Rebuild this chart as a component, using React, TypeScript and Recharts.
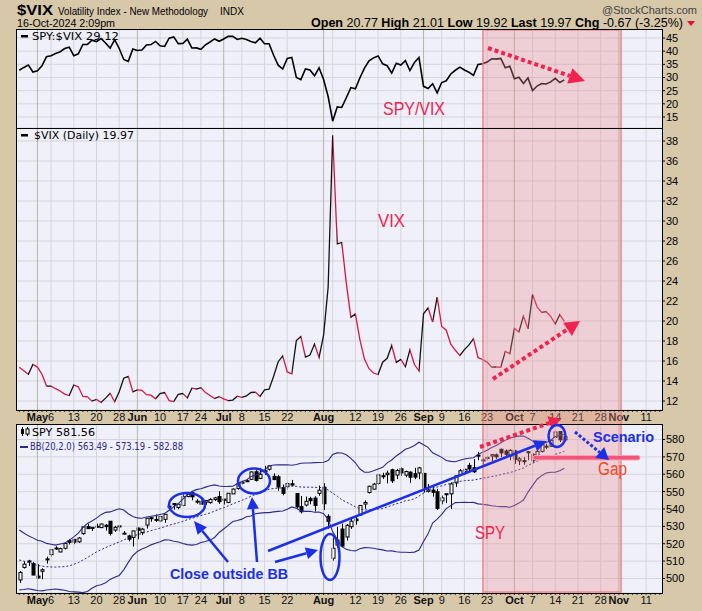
import React from 'react';
import {
  ComposedChart,
  Line,
  Bar,
  XAxis,
  YAxis,
  CartesianGrid,
  ReferenceLine,
} from 'recharts';

// trading days shown on the axis (data ends Oct 16, the rest is empty space)
const APR_DAYS = [25, 26, 29, 30];
const MAY_DAYS = [1, 2, 3, 6, 7, 8, 9, 10, 13, 14, 15, 16, 17, 20, 21, 22, 23, 24, 28, 29, 30, 31];
const JUN_DAYS = [3, 4, 5, 6, 7, 10, 11, 12, 13, 14, 17, 18, 20, 21, 24, 25, 26, 27, 28];
const JUL_DAYS = [1, 2, 3, 5, 8, 9, 10, 11, 12, 15, 16, 17, 18, 19, 22, 23, 24, 25, 26, 29, 30, 31];
const AUG_DAYS = [1, 2, 5, 6, 7, 8, 9, 12, 13, 14, 15, 16, 19, 20, 21, 22, 23, 26, 27, 28, 29, 30];
const SEP_DAYS = [3, 4, 5, 6, 9, 10, 11, 12, 13, 16, 17, 18, 19, 20, 23, 24, 25, 26, 27, 30];
const OCT_DAYS = [1, 2, 3, 4, 7, 8, 9, 10, 11, 14, 15, 16, 17, 18, 21, 22, 23, 24, 25, 28, 29, 30, 31];
const NOV_DAYS = [1, 4, 5, 6, 7, 8, 11, 12, 13, 14];

// axis labels: date -> text (months bold)
const AXIS_LABELS: [string, string, boolean][] = [
  ['May 1', 'May', true], ['May 6', '6', false], ['May 13', '13', false], ['May 20', '20', false],
  ['May 28', '28', false], ['Jun 3', 'Jun', true], ['Jun 10', '10', false], ['Jun 17', '17', false],
  ['Jun 24', '24', false], ['Jul 1', 'Jul', true], ['Jul 8', '8', false], ['Jul 15', '15', false],
  ['Jul 22', '22', false], ['Aug 1', 'Aug', true], ['Aug 12', '12', false], ['Aug 19', '19', false],
  ['Aug 26', '26', false], ['Sep 3', 'Sep', true], ['Sep 9', '9', false], ['Sep 16', '16', false],
  ['Sep 23', '23', false], ['Oct 1', 'Oct', true], ['Oct 7', '7', false], ['Oct 14', '14', false],
  ['Oct 21', '21', false], ['Oct 28', '28', false], ['Nov 1', 'Nov', true], ['Nov 11', '11', false],
];
const EXTRA_GRID = ['Aug 5'];

const vixClose = [
  15.37, 15.03, 14.67, 15.65, 15.39, 14.68, 13.49, 13.49, 13.23, 13.0,
  12.69, 12.55, 13.6, 13.42, 12.45, 12.42, 11.99, 12.15, 11.86, 12.29,
  12.77, 11.93, 12.92, 14.28, 14.47, 12.92, 13.11, 13.06, 12.63, 12.58,
  12.22, 12.74, 12.85, 12.04, 11.94, 12.66, 12.75, 12.3, 13.28, 13.2,
  13.33, 12.84, 12.55, 12.24, 12.44, 12.22, 12.03, 12.09, 12.48, 12.37,
  12.51, 12.85, 12.89, 12.46, 13.12, 13.19, 14.48, 15.93, 16.52, 14.91,
  14.72, 18.04, 18.46, 16.39, 16.6, 17.69, 16.36, 18.59, 23.39, 38.57,
  27.71, 27.85, 23.79, 20.37, 20.71, 18.12, 16.19, 15.23, 14.8, 14.65,
  15.88, 16.27, 17.55, 15.86, 16.15, 15.43, 17.11, 15.65, 15.0, 20.72,
  21.32, 19.9, 22.38, 19.45, 19.08, 17.69, 17.07, 16.56, 17.14, 17.61,
  18.23, 16.33, 16.15, 15.89, 15.39, 15.41, 15.37, 16.96, 16.73, 19.26,
  18.9, 20.49, 19.21, 22.64, 21.42, 20.86, 20.93, 20.46, 19.7, 20.64,
  19.97,
];

const spyVixRatio = [
  32.76, 33.82, 34.77, 32.08, 32.51, 34.4, 37.9, 38.29, 39.09, 39.78,
  40.99, 41.5, 38.3, 38.99, 42.55, 42.57, 44.16, 43.63, 44.8, 43.11,
  41.19, 44.38, 41.01, 36.84, 36.12, 40.82, 40.26, 40.46, 42.33, 42.5,
  43.7, 42.05, 41.79, 44.96, 45.43, 42.87, 42.91, 44.59, 41.19, 41.25,
  40.72, 42.43, 43.47, 44.64, 43.75, 44.63, 45.64, 45.61, 44.44, 44.89,
  44.43, 43.68, 43.17, 44.94, 42.8, 42.83, 38.46, 34.69, 33.23, 37.2,
  37.62, 30.0, 29.17, 33.22, 32.82, 30.64, 33.67, 29.21, 22.78, 13.41,
  18.84, 18.62, 22.31, 26.17, 25.75, 29.91, 33.59, 36.31, 37.45, 38.2,
  35.18, 34.46, 31.69, 35.44, 34.72, 36.39, 32.63, 35.68, 37.58, 26.64,
  25.84, 27.62, 24.14, 28.09, 28.76, 31.34, 32.75, 33.94, 32.84, 31.97,
  30.8, 34.97, 35.19, 35.85, 37.12, 36.99, 37.24, 33.7, 34.3, 29.52,
  30.1, 27.71, 29.83, 25.08, 26.76, 27.67, 27.53, 28.33, 29.66, 28.09,
  29.12,
];

const spyOpen = [
  499.18, 506.35, 510.09, 508.56, 501.38, 504.15, 511.16, 513.75, 517.56, 515.26,
  517.38, 521.81, 522.56, 521.11, 525.83, 529.88, 528.81, 529.57, 529.28, 530.65,
  532.96, 527.85, 530.27, 525.68, 524.52, 523.59, 529.02, 526.46, 530.77, 534.98,
  533.66, 533.18, 534.07, 541.63, 543.15, 540.88, 542.08, 547.16, 549.44, 544.4,
  544.33, 543.99, 543.69, 545.37, 547.16, 545.63, 543.7, 548.69, 551.77, 555.44,
  556.26, 557.07, 561.44, 557.63, 562.03, 562.87, 558.8, 558.51, 552.42, 553.0,
  554.54, 548.86, 541.35, 542.28, 546.02, 546.26, 548.98, 552.57, 535.75, 511.64,
  519.22, 528.47, 523.91, 529.81, 534.21, 536.53, 542.85, 549.5, 551.42, 554.73,
  559.15, 559.77, 562.56, 559.53, 563.18, 559.49, 561.21, 560.31, 560.77, 560.47,
  550.2, 550.89, 549.94, 544.65, 548.36, 548.7, 555.01, 559.71, 561.74, 565.1,
  563.74, 571.01, 567.84, 569.34, 570.48, 571.14, 574.38, 573.39, 570.42, 573.4,
  567.71, 567.36, 572.35, 571.3, 570.42, 573.16, 575.77, 576.05, 581.22, 584.59,
  579.78,
];
const spyHigh = [
  504.27, 509.88, 510.75, 509.56, 508.19, 505.89, 512.55, 516.61, 518.57, 517.74,
  520.21, 522.64, 522.67, 523.83, 530.08, 531.52, 529.52, 531.56, 531.52, 531.38,
  533.07, 530.27, 530.51, 527.31, 525.2, 527.5, 529.31, 529.15, 534.69, 535.42,
  536.89, 535.99, 537.01, 544.12, 543.33, 542.81, 548.53, 548.62, 550.28, 545.65,
  546.95, 545.2, 546.24, 546.96, 550.28, 545.88, 549.01, 551.83, 555.05, 556.25,
  557.18, 561.67, 562.33, 563.67, 564.84, 565.16, 560.51, 559.52, 554.08, 555.27,
  556.74, 549.17, 547.46, 547.19, 547.05, 547.34, 553.5, 554.87, 536.99, 523.58,
  529.75, 531.59, 531.29, 534.51, 535.73, 542.28, 544.96, 553.36, 555.02, 559.61,
  560.84, 562.11, 563.18, 563.09, 563.91, 562.06, 561.65, 563.68, 564.2, 560.81,
  554.43, 553.8, 551.6, 547.71, 549.15, 555.36, 559.4, 563.03, 563.11, 566.58,
  568.69, 572.88, 569.31, 570.33, 571.36, 571.89, 574.71, 574.22, 574.38, 574.06,
  569.9, 569.8, 573.36, 571.96, 573.78, 577.71, 577.58, 580.33, 585.27, 584.9,
  582.83,
];
const spyLow = [
  497.49, 505.7, 507.25, 501.98, 499.87, 499.55, 508.56, 512.56, 516.45, 515.14,
  516.71, 519.59, 519.74, 520.56, 525.18, 528.54, 527.32, 529.17, 529.07, 527.6,
  524.72, 526.88, 527.11, 525.37, 521.33, 518.36, 522.6, 524.96, 528.73, 532.68,
  532.54, 532.57, 532.05, 540.3, 539.59, 539.85, 541.61, 546.73, 545.05, 543.02,
  542.62, 542.44, 543.03, 544.61, 542.95, 542.52, 543.65, 548.65, 551.12, 554.19,
  555.52, 556.77, 555.83, 557.15, 559.63, 562.1, 556.61, 550.43, 547.91, 551.02,
  553.28, 540.29, 537.45, 541.49, 542.72, 538.52, 547.58, 539.43, 528.6, 510.27,
  517.87, 518.05, 521.84, 528.56, 530.95, 536.28, 540.12, 548.88, 551.26, 553.86,
  557.33, 554.73, 554.98, 557.29, 559.05, 558.32, 555.04, 557.18, 557.14, 549.51,
  549.46, 547.1, 539.44, 542.68, 543.38, 539.96, 552.74, 559.45, 559.9, 560.79,
  560.83, 568.08, 565.17, 568.1, 567.6, 568.91, 569.9, 570.42, 568.08, 566.0,
  565.27, 565.49, 568.1, 566.63, 569.53, 572.55, 574.49, 575.91, 580.73, 578.54,
  578.96,
];
const spyClose = [
  503.49, 508.26, 510.06, 501.98, 500.35, 505.03, 511.29, 516.57, 517.14, 517.19,
  520.17, 520.84, 520.91, 523.3, 529.78, 528.69, 529.45, 530.06, 531.36, 529.83,
  525.96, 529.44, 529.81, 526.1, 522.61, 527.37, 527.8, 528.39, 534.67, 534.66,
  534.01, 535.66, 536.95, 541.36, 542.45, 542.78, 547.1, 548.49, 547.0, 544.51,
  542.74, 544.83, 545.51, 546.37, 544.22, 545.34, 549.01, 551.46, 554.64, 555.28,
  555.82, 561.32, 556.48, 559.99, 561.53, 564.86, 556.94, 552.66, 548.99, 554.65,
  553.78, 541.23, 538.41, 544.44, 544.76, 542.0, 550.81, 543.01, 532.9, 517.38,
  522.15, 518.66, 530.65, 532.99, 533.27, 542.04, 543.75, 553.07, 554.31, 559.61,
  558.7, 560.62, 556.22, 562.13, 560.79, 561.56, 558.3, 558.35, 563.68, 552.08,
  550.95, 549.61, 540.36, 546.41, 548.79, 554.42, 559.09, 562.01, 562.84, 563.07,
  561.4, 570.98, 568.25, 569.67, 571.3, 570.04, 572.3, 571.47, 573.76, 568.62,
  568.86, 567.82, 572.98, 567.8, 573.17, 577.14, 576.13, 579.58, 584.32, 579.78,
  581.56,
];

// Bollinger bands (20, 2.0)
const bbUpper = [
  527.87, 526.19, 524.54, 523.38, 521.97, 521.39, 520.19, 519.7, 519.19, 519.83,
  520.36, 522.1, 523.96, 526.11, 529.31, 531.61, 533.1, 534.74, 536.73, 538.05,
  538.33, 539.27, 540.16, 539.37, 537.28, 535.7, 534.87, 534.68, 535.42, 535.79,
  536.2, 536.8, 537.4, 539.24, 541.27, 543.06, 545.66, 548.18, 550.02, 551.15,
  551.69, 552.58, 553.41, 553.9, 553.2, 552.98, 553.02, 553.13, 554.57, 555.8,
  556.65, 558.77, 559.35, 560.9, 562.54, 564.72, 565.29, 565.4, 565.38, 565.43,
  565.16, 565.58, 566.37, 566.49, 566.44, 566.71, 566.74, 566.88, 567.93, 571.34,
  572.3, 572.26, 571.17, 569.18, 566.59, 563.03, 561.11, 561.19, 562.03, 563.04,
  563.97, 566.54, 568.23, 570.53, 572.41, 574.39, 575.26, 576.55, 578.41, 576.96,
  575.48, 572.31, 571.08, 569.71, 567.92, 567.4, 567.23, 568.01, 568.74, 569.21,
  569.47, 571.33, 572.73, 573.87, 575.43, 576.55, 578.17, 579.49, 580.83, 581.48,
  581.92, 581.99, 580.66, 579.11, 577.85, 578.02, 578.2, 579.57, 581.73, 582.52,
  582.88,
];
const bbMid = [
  510.67, 509.93, 509.32, 508.48, 507.53, 507.13, 506.77, 506.66, 506.55, 506.71,
  506.82, 507.32, 508.14, 509.13, 510.59, 512.05, 513.76, 515.28, 516.57, 517.79,
  518.91, 519.97, 520.96, 522.17, 523.28, 524.4, 525.23, 525.82, 526.7, 527.57,
  528.26, 529.0, 529.8, 530.7, 531.33, 532.04, 532.92, 533.84, 534.62, 535.35,
  536.19, 536.96, 537.75, 538.76, 539.84, 540.74, 541.8, 542.95, 543.95, 544.98,
  546.07, 547.35, 548.33, 549.26, 550.22, 551.32, 551.81, 552.02, 552.12, 552.63,
  553.18, 553.0, 552.65, 552.55, 552.58, 552.41, 552.5, 552.08, 550.99, 549.1,
  547.42, 545.28, 543.99, 542.64, 541.23, 540.09, 539.43, 539.45, 539.71, 539.96,
  540.21, 541.18, 542.07, 542.95, 543.75, 544.73, 545.1, 545.87, 547.41, 549.14,
  550.58, 552.13, 552.62, 553.29, 554.06, 554.68, 555.45, 555.89, 556.32, 556.49,
  556.63, 557.15, 557.75, 558.13, 558.65, 559.07, 559.77, 560.43, 560.93, 561.76,
  562.66, 563.57, 565.2, 566.27, 567.49, 568.62, 569.48, 570.35, 571.43, 572.26,
  573.19,
];
const bbLower = [
  493.47, 493.67, 494.1, 493.58, 493.09, 492.87, 493.35, 493.62, 493.91, 493.59,
  493.28, 492.54, 492.32, 492.15, 491.87, 492.49, 494.42, 495.82, 496.41, 497.53,
  499.49, 500.67, 501.76, 504.97, 509.28, 513.1, 515.59, 516.96, 517.98, 519.35,
  520.32, 521.2, 522.2, 522.16, 521.39, 521.02, 520.18, 519.5, 519.22, 519.55,
  520.69, 521.34, 522.09, 523.62, 526.48, 528.5, 530.58, 532.77, 533.33, 534.16,
  535.49, 535.93, 537.31, 537.62, 537.9, 537.92, 538.33, 538.64, 538.86, 539.83,
  541.2, 540.42, 538.93, 538.61, 538.72, 538.11, 538.26, 537.28, 534.05, 526.86,
  522.54, 518.3, 516.81, 516.1, 515.87, 517.15, 517.75, 517.71, 517.39, 516.88,
  516.45, 515.82, 515.91, 515.37, 515.09, 515.07, 514.94, 515.19, 516.41, 521.32,
  525.68, 531.95, 534.16, 536.87, 540.2, 541.96, 543.67, 543.77, 543.9, 543.77,
  543.79, 542.97, 542.77, 542.39, 541.87, 541.59, 541.37, 541.37, 541.03, 542.04,
  543.4, 545.15, 549.74, 553.43, 557.13, 559.22, 560.76, 561.13, 561.13, 562.0,
  563.49,
];

const RATIO_TICKS = [15, 20, 25, 30, 35, 40, 45];
const VIX_TICKS = [12, 14, 16, 18, 20, 22, 24, 26, 28, 30, 32, 34, 36, 38];
const SPY_TICKS = [500, 510, 520, 530, 540, 550, 560, 570, 580];

const FONT = "'Liberation Sans', Arial, sans-serif";
const VFONT = "'DejaVu Sans', Verdana, sans-serif";
const TAN = '#d7c8aa';
const PANEL_BG = '#eff0f9';
const GRID = '#d5d5dc';
const MONTH_GRID = '#bab4a6';
const RED = '#f0234f';
const BLUE = '#1b2fe6';
const NAVY = '#2a2a8c';

const dates: string[] = [];
([['Apr', APR_DAYS], ['May', MAY_DAYS], ['Jun', JUN_DAYS], ['Jul', JUL_DAYS], ['Aug', AUG_DAYS],
  ['Sep', SEP_DAYS], ['Oct', OCT_DAYS], ['Nov', NOV_DAYS]] as [string, number[]][]).forEach(([m, days]) =>
  days.forEach((d) => dates.push(`${m} ${d}`))
);

const rows = dates.map((d, i) => {
  const has = i < spyClose.length;
  return {
    d,
    ratio: has ? spyVixRatio[i] : null,
    vix: has ? vixClose[i] : null,
    o: has ? spyOpen[i] : null,
    h: has ? spyHigh[i] : null,
    l: has ? spyLow[i] : null,
    c: has ? spyClose[i] : null,
    rng: has ? [spyLow[i], spyHigh[i]] : null,
    bbU: has ? bbUpper[i] : null,
    bbM: has ? bbMid[i] : null,
    bbL: has ? bbLower[i] : null,
  };
});

const labelMap: Record<string, { text: string; bold: boolean }> = {};
AXIS_LABELS.forEach(([d, text, bold]) => (labelMap[d] = { text, bold }));
const gridDates = [...AXIS_LABELS.map((a) => a[0]), ...EXTRA_GRID];
const monthDates = AXIS_LABELS.filter((a) => a[2]).map((a) => a[0]);

// VIX line: black on up days, red on down days
const vixStops: { off: number; color: string }[] = [];
for (let j = 0; j < vixClose.length - 1; j++) {
  const color = vixClose[j + 1] >= vixClose[j] ? '#111111' : '#d6163f';
  vixStops.push({ off: j / (vixClose.length - 1), color });
  vixStops.push({ off: (j + 1) / (vixClose.length - 1), color });
}

const PLOT_L = 17;
const PLOT_R = 662;
const AXIS_W = 40;
const P1 = { top: 29, h: 99 };
const P2 = { top: 128, h: 282 };
const P3 = { top: 424, h: 169 };
const XAX_H = 14;

function XTick(props: any) {
  const { x, y, payload } = props;
  const lab = labelMap[payload.value];
  return (
    <g>
      <line x1={x} x2={x} y1={y} y2={y + 2} stroke="#333" strokeWidth={1} />
      {lab && (
        <text x={x} y={y + 11} textAnchor="middle" fontSize={11} fontFamily={FONT}
          fontWeight={lab.bold ? 700 : 400} fill="#111">
          {lab.text}
        </text>
      )}
    </g>
  );
}

function Candle(p: any) {
  const { x, y, width, height, payload } = p;
  if (payload == null || payload.h == null) return null;
  const { o, h, l, c } = payload;
  const k = h - l > 0 ? height / (h - l) : 0;
  const yO = y + (h - o) * k;
  const yC = y + (h - c) * k;
  const cx = Math.round(x + width / 2) + 0.5;
  const top = Math.min(yO, yC);
  const bh = Math.max(1, Math.abs(yO - yC));
  const up = c >= o;
  return (
    <g>
      <line x1={cx} x2={cx} y1={y} y2={y + height} stroke="#000" strokeWidth={1} />
      <rect x={cx - 1.5} y={top} width={3} height={bh} fill={up ? '#ffffff' : '#000000'}
        stroke="#000" strokeWidth={1} />
    </g>
  );
}

function gridLines() {
  return gridDates.map((d) => (
    <ReferenceLine key={d} x={d} stroke={monthDates.includes(d) ? MONTH_GRID : GRID} strokeWidth={1} />
  ));
}

function yAxis(domain: [number, number], ticks: number[]) {
  return (
    <YAxis orientation="right" width={AXIS_W} domain={domain} ticks={ticks} interval={0}
      allowDataOverflow type="number" axisLine={false} tickSize={3} tickMargin={1}
      tickLine={{ stroke: '#000' }}
      tick={{ fontSize: 11, fill: '#000', fontFamily: FONT }} />
  );
}

function arrowHead(x1: number, y1: number, x2: number, y2: number, len: number, half: number) {
  const dx = x2 - x1;
  const dy = y2 - y1;
  const L = Math.hypot(dx, dy);
  const ux = dx / L;
  const uy = dy / L;
  const bx = x2 - ux * len;
  const by = y2 - uy * len;
  return {
    bx,
    by,
    pts: `${x2},${y2} ${bx - uy * half},${by + ux * half} ${bx + uy * half},${by - ux * half}`,
  };
}

function Arrow({ x1, y1, x2, y2, color, w, dash, len, half }: any) {
  const a = arrowHead(x1, y1, x2, y2, len, half);
  return (
    <g>
      <line x1={x1} y1={y1} x2={a.bx} y2={a.by} stroke={color} strokeWidth={w} strokeDasharray={dash} />
      <polygon points={a.pts} fill={color} />
    </g>
  );
}

function Annotations() {
  return (
    <svg width={702} height={611} style={{ position: 'absolute', left: 0, top: 0, pointerEvents: 'none' }}>
      {/* header */}
      <text x={17} y={15} fontFamily={FONT} fontSize={14} fontWeight={700} fill="#000"
        textLength={36} lengthAdjust="spacingAndGlyphs">$VIX</text>
      <text x={58} y={15} fontFamily={FONT} fontSize={10} fill="#000" textLength={150} lengthAdjust="spacingAndGlyphs">
        Volatility Index - New Methodology
      </text>
      <text x={220} y={15} fontFamily={FONT} fontSize={10} fill="#000">INDX</text>
      <text x={17} y={27} fontFamily={FONT} fontSize={10.5} fill="#000" textLength={98} lengthAdjust="spacingAndGlyphs">
        16-Oct-2024 2:09pm
      </text>
      <text x={683} y={27} textAnchor="end" fontFamily={FONT} fontSize={12} fill="#000"
        textLength={372} lengthAdjust="spacingAndGlyphs">
        <tspan fontWeight={700}>Open</tspan> 20.77 <tspan fontWeight={700}>High</tspan> 21.01{' '}
        <tspan fontWeight={700}>Low</tspan> 19.92 <tspan fontWeight={700}>Last</tspan> 19.97{' '}
        <tspan fontWeight={700}>Chg</tspan> -0.67 (-3.25%)
      </text>
      <polygon points="687,21 695,21 691,26" fill="#e01030" />
      <text x={697} y={14} textAnchor="end" fontFamily={FONT} fontSize={11} fill="#444">@StockCharts.com</text>

      {/* legends */}
      <rect x={21} y={35} width={7} height={2.5} fill="#000" />
      <text x={32} y={40} fontFamily={VFONT} fontSize={11} fill="#000" textLength={87} lengthAdjust="spacingAndGlyphs">
        SPY:$VIX 29.12
      </text>
      <rect x={21} y={134} width={7} height={2.5} fill="#000" />
      <text x={34} y={139} fontFamily={VFONT} fontSize={11} fill="#000" textLength={100} lengthAdjust="spacingAndGlyphs">
        $VIX (Daily) 19.97
      </text>
      <line x1={22.5} x2={22.5} y1={427} y2={436} stroke="#000" />
      <rect x={21} y={429} width={3} height={5} fill="#000" />
      <line x1={27.5} x2={27.5} y1={427} y2={436} stroke="#000" />
      <rect x={26} y={429} width={3} height={5} fill="#fff" stroke="#000" />
      <text x={32} y={436} fontFamily={VFONT} fontSize={11} fill="#000" textLength={63} lengthAdjust="spacingAndGlyphs">
        SPY 581.56
      </text>
      <rect x={20} y={446} width={8} height={2} fill={NAVY} />
      <text x={30} y={450} fontFamily={VFONT} fontSize={10} fill={NAVY} textLength={153} lengthAdjust="spacingAndGlyphs">
        BB(20,2.0) 563.49 - 573.19 - 582.88
      </text>

      {/* SPY/VIX panel */}
      <Arrow x1={488} y1={48} x2={585} y2={81} color={RED} w={4} dash="4 3" len={16} half={8} />
      <text x={383} y={115} fontFamily={FONT} fontSize={19} fill={RED} textLength={62} lengthAdjust="spacingAndGlyphs">
        SPY/VIX
      </text>

      {/* VIX panel */}
      <text x={378} y={227} fontFamily={FONT} fontSize={18} fill={RED} textLength={27} lengthAdjust="spacingAndGlyphs">
        VIX
      </text>
      <Arrow x1={493} y1={379} x2={580} y2={321} color={RED} w={4} dash="4 3" len={15} half={8} />

      {/* SPY panel */}
      <Arrow x1={480} y1={447} x2={561} y2={419} color={RED} w={4} dash="4 3" len={12} half={7} />
      <text x={475} y={539} fontFamily={FONT} fontSize={18} fill={RED} textLength={30} lengthAdjust="spacingAndGlyphs">
        SPY
      </text>
      <rect x={533} y={455.5} width={107} height={4.5} rx={2} fill="#f2547a" stroke="#f7a3b8" strokeWidth={1} />
      <text x={598} y={475} fontFamily={FONT} fontSize={18} fill="#f4461f" textLength={29} lengthAdjust="spacingAndGlyphs">
        Gap
      </text>
      <text x={593} y={442} fontFamily={FONT} fontSize={15} fontWeight={700} fill={BLUE} textLength={61} lengthAdjust="spacingAndGlyphs">
        Scenario
      </text>
      <Arrow x1={575} y1={432} x2={609} y2={460} color={BLUE} w={3} dash="3 2" len={12} half={7} />
      <Arrow x1={268} y1={551} x2={547} y2={441} color={BLUE} w={2.5} len={13} half={6} />
      <Arrow x1={275} y1={562} x2={318} y2={550} color={BLUE} w={2.5} len={12} half={6} />
      <Arrow x1={228} y1={562} x2={194} y2={521} color={BLUE} w={2.5} len={13} half={6} />
      <Arrow x1={257} y1={562} x2={252} y2={497} color={BLUE} w={2.5} len={12} half={6} />
      <ellipse cx={187} cy={505} rx={18} ry={12} fill="none" stroke={BLUE} strokeWidth={2.5} />
      <ellipse cx={254} cy={481} rx={16} ry={12.5} fill="none" stroke={BLUE} strokeWidth={2.5} />
      <ellipse cx={330} cy={557} rx={9.5} ry={23} fill="none" stroke={BLUE} strokeWidth={2.5} />
      <ellipse cx={557} cy={436} rx={8.5} ry={11} fill="none" stroke={BLUE} strokeWidth={2.5} />
      <text x={170} y={579} fontFamily={FONT} fontSize={15} fontWeight={700} fill={BLUE} textLength={118} lengthAdjust="spacingAndGlyphs">
        Close outside BB
      </text>
    </svg>
  );
}

function Panel({ top, h }: { top: number; h: number }) {
  return (
    <div style={{ position: 'absolute', left: PLOT_L, top, width: PLOT_R - PLOT_L, height: h, background: PANEL_BG }} />
  );
}

// black frame: lines at top, top + h, PLOT_L - 1 and PLOT_R
function Frame({ top, h }: { top: number; h: number }) {
  return (
    <div style={{
      position: 'absolute', left: PLOT_L - 1, top, width: PLOT_R - PLOT_L + 2, height: h + 1,
      border: '1px solid #000', boxSizing: 'border-box', pointerEvents: 'none',
    }} />
  );
}

export default function App() {
  const margin = { top: 0, right: 0, bottom: 0, left: PLOT_L };
  return (
    <div style={{ position: 'absolute', left: 0, top: 0, width: 702, height: 611, background: TAN, overflow: 'hidden' }}>
      <Panel {...P1} />
      <Panel {...P2} />
      <Panel {...P3} />

      <div style={{ position: 'absolute', left: 0, top: P1.top }}>
        <ComposedChart width={702} height={P1.h} data={rows} margin={margin}>
          <XAxis dataKey="d" type="category" scale="band" hide />
          {yAxis([10.82, 48.42], RATIO_TICKS)}
          <CartesianGrid vertical={false} stroke={GRID} />
          {gridLines()}
          <Line dataKey="ratio" stroke="#000" strokeWidth={1.6} dot={false} activeDot={false}
            isAnimationActive={false} />
        </ComposedChart>
      </div>

      <div style={{ position: 'absolute', left: 0, top: P2.top }}>
        <ComposedChart width={702} height={P2.h + XAX_H} data={rows} margin={margin}>
          <defs>
            <linearGradient id="vixGrad" x1="0" y1="0" x2="1" y2="0">
              {vixStops.map((s, i) => (
                <stop key={i} offset={s.off} stopColor={s.color} />
              ))}
            </linearGradient>
          </defs>
          <XAxis dataKey="d" type="category" scale="band" height={XAX_H} interval={0} ticks={dates}
            axisLine={false} tickLine={false} tickSize={0} tickMargin={0} tick={<XTick />} />
          {yAxis([11.1, 39.3], VIX_TICKS)}
          <CartesianGrid vertical={false} stroke={GRID} />
          {gridLines()}
          <Line dataKey="vix" stroke="url(#vixGrad)" strokeWidth={1.3} dot={false} activeDot={false}
            isAnimationActive={false} />
        </ComposedChart>
      </div>

      <div style={{ position: 'absolute', left: 0, top: P3.top }}>
        <ComposedChart width={702} height={P3.h + XAX_H} data={rows} margin={margin}>
          <XAxis dataKey="d" type="category" scale="band" height={XAX_H} interval={0} ticks={dates}
            axisLine={false} tickLine={false} tickSize={0} tickMargin={0} tick={<XTick />} />
          {yAxis([491.65, 588.92], SPY_TICKS)}
          <CartesianGrid vertical={false} stroke={GRID} />
          {gridLines()}
          <Line dataKey="bbU" stroke={NAVY} strokeWidth={1.1} dot={false} activeDot={false}
            isAnimationActive={false} />
          <Line dataKey="bbL" stroke={NAVY} strokeWidth={1.1} dot={false} activeDot={false}
            isAnimationActive={false} />
          <Line dataKey="bbM" stroke={NAVY} strokeWidth={1} strokeDasharray="2 2" dot={false}
            activeDot={false} isAnimationActive={false} />
          <Bar dataKey="rng" barSize={3} shape={<Candle />} isAnimationActive={false} />
        </ComposedChart>
      </div>

      {/* highlighted region */}
      <div style={{
        position: 'absolute', left: 482, top: P1.top, width: 140, height: P3.top + P3.h - P1.top,
        background: 'rgba(236,140,140,0.33)', border: '2px solid rgba(232,118,118,0.55)', boxSizing: 'border-box',
      }} />

      <Frame {...P1} />
      <Frame {...P2} />
      <Frame {...P3} />
      <Annotations />
    </div>
  );
}
